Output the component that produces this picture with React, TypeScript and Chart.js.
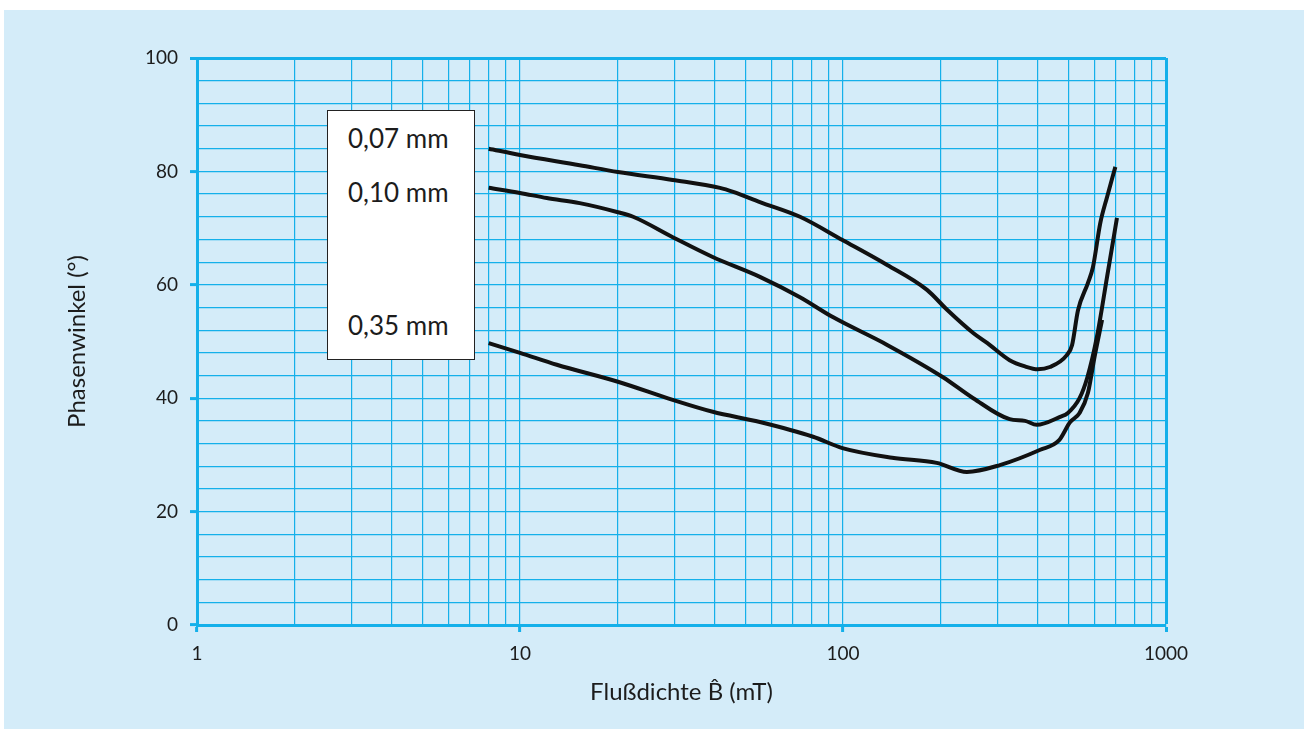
import React, { useEffect, useRef } from "react";
import { Chart, registerables } from "chart.js";

Chart.register(...registerables);

// ---- data ----
const X_MAJOR_TICKS = [1, 10, 100, 1000];
const Y_MAJOR_TICKS = [0, 20, 40, 60, 80, 100];
const SERIES_LABELS = ["0,07 mm", "0,10 mm", "0,35 mm"];

const B_007 = [8, 10, 15.3, 20.1, 29.7, 41.6, 45.7, 55.3, 73.6, 99.6, 137, 182, 210, 253, 280, 328, 366, 401, 437, 493, 512, 534, 573, 594, 626, 657, 697];
const PHI_007 = [84.0, 82.9, 81.1, 79.9, 78.5, 77.1, 76.4, 74.6, 72.0, 67.9, 63.5, 59.1, 55.6, 51.5, 49.7, 46.7, 45.6, 45.1, 45.5, 47.6, 49.4, 55.5, 60.3, 63.1, 70.9, 75.5, 80.8];

const B_010 = [8, 10, 12.1, 15.3, 20.1, 22.4, 29.7, 39.5, 55.3, 73.6, 93, 137, 204, 253, 328, 366, 398, 470, 497, 540, 571, 611, 657, 705];
const PHI_010 = [77.1, 76.2, 75.3, 74.4, 72.8, 72.0, 68.4, 64.9, 61.4, 57.8, 54.3, 49.4, 43.7, 40.0, 36.3, 36.0, 35.3, 36.7, 37.4, 40.0, 43.7, 50.8, 61.4, 71.8];

const B_035 = [8, 10, 13.0, 20.1, 29.7, 39.5, 55.3, 80.8, 99.6, 142, 195, 242, 306, 408, 467, 505, 540, 573, 601, 634];
const PHI_035 = [49.7, 48.0, 45.9, 42.9, 39.7, 37.6, 35.8, 33.2, 31.2, 29.5, 28.6, 27.0, 28.2, 30.9, 32.6, 35.8, 37.4, 40.9, 47.3, 53.8];

const X_TITLE = "Flußdichte B\u0302 (mT)";
const Y_TITLE = "Phasenwinkel (°)";

// ---- style ----
const PANEL_BG = "#d4ecf9";
const GRID = "#14b0ea";
const TEXT = "#1c1c1c";
const FONT = "Lato, 'Open Sans', sans-serif";

const W = 1300;
const H = 719;

const toPts = (xs: number[], ys: number[]) => xs.map((x, i) => ({ x, y: ys[i] }));

export default function App() {
  const ref = useRef<HTMLCanvasElement | null>(null);

  useEffect(() => {
    if (!ref.current) return;
    const mk = (label: string, xs: number[], ys: number[]) => ({
      label,
      data: toPts(xs, ys),
      borderColor: "#111",
      borderWidth: 4,
      pointRadius: 0,
      fill: false,
      cubicInterpolationMode: "monotone" as const,
      borderCapStyle: "butt" as const,
      borderJoinStyle: "round" as const,
    });
    const chart = new Chart(ref.current, {
      type: "line",
      data: {
        datasets: [
          mk(SERIES_LABELS[0], B_007, PHI_007),
          mk(SERIES_LABELS[1], B_010, PHI_010),
          mk(SERIES_LABELS[2], B_035, PHI_035),
        ],
      },
      options: {
        responsive: false,
        animation: false,
        layout: { padding: { left: 0, top: 48, right: 138, bottom: 0 } },
        plugins: {
          legend: { display: false },
          tooltip: { enabled: false },
        },
        scales: {
          x: {
            type: "logarithmic",
            min: 1,
            max: 1000,
            afterBuildTicks: (scale: any) => {
              const vals: number[] = [];
              for (let d = 1; d < 1000; d *= 10) {
                for (let k = 1; k <= 9; k++) vals.push(k * d);
              }
              vals.push(1000);
              scale.ticks = vals.map((v) => ({ value: v, major: X_MAJOR_TICKS.includes(v) }));
            },
            afterFit: (scale: any) => {
              scale.height = 104;
            },
            ticks: {
              autoSkip: false,
              maxRotation: 0,
              padding: 10,
              color: TEXT,
              font: { family: FONT, size: 19 },
              callback: (v: any) => (X_MAJOR_TICKS.includes(Number(v)) ? String(v) : ""),
            },
            grid: {
              color: GRID,
              lineWidth: (ctx: any) => (ctx.tick && ctx.tick.value === 1000 ? 3 : 1.2),
              tickLength: 7,
              tickWidth: 3,
              tickColor: (ctx: any) =>
                ctx.tick && X_MAJOR_TICKS.includes(ctx.tick.value) ? GRID : "rgba(0,0,0,0)",
            },
            border: { display: true, color: GRID, width: 3 },
            title: {
              display: true,
              text: X_TITLE,
              color: TEXT,
              font: { family: FONT, size: 24 },
              padding: { top: 0, bottom: 22 },
            },
          },
          y: {
            type: "linear",
            min: 0,
            max: 100,
            afterBuildTicks: (scale: any) => {
              const vals: number[] = [];
              for (let v = 0; v <= 100; v += 4) vals.push(v);
              scale.ticks = vals.map((v) => ({ value: v, major: Y_MAJOR_TICKS.includes(v) }));
            },
            afterFit: (scale: any) => {
              scale.width = 193;
            },
            ticks: {
              autoSkip: false,
              padding: 12,
              color: TEXT,
              font: { family: FONT, size: 19 },
              callback: (v: any) => (Y_MAJOR_TICKS.includes(Number(v)) ? String(v) : ""),
            },
            grid: {
              color: GRID,
              lineWidth: (ctx: any) => (ctx.tick && ctx.tick.value === 100 ? 3 : 1.2),
              tickLength: 7,
              tickWidth: 3,
              tickColor: (ctx: any) =>
                ctx.tick && Y_MAJOR_TICKS.includes(ctx.tick.value) ? GRID : "rgba(0,0,0,0)",
            },
            border: { display: true, color: GRID, width: 3 },
            title: {
              display: true,
              text: Y_TITLE,
              color: TEXT,
              font: { family: FONT, size: 24 },
              padding: { top: 59, bottom: 0 },
            },
          },
        },
      },
    } as any);
    return () => chart.destroy();
  }, []);

  const labelStyle: React.CSSProperties = {
    position: "absolute",
    left: 20,
    fontFamily: FONT,
    fontSize: 26,
    color: TEXT,
    lineHeight: "26px",
    whiteSpace: "nowrap",
  };

  return (
    <div
      style={{
        position: "fixed",
        left: 4,
        top: 10,
        width: W,
        height: H,
        background: PANEL_BG,
      }}
    >
      <canvas ref={ref} width={W} height={H} style={{ position: "absolute", left: 0, top: 0, width: W, height: H }} />
      <div
        style={{
          position: "absolute",
          left: 323,
          top: 100,
          width: 146,
          height: 248,
          background: "#fff",
          border: "1px solid #222",
        }}
      >
        <div style={{ ...labelStyle, top: 14 }}>{SERIES_LABELS[0]}</div>
        <div style={{ ...labelStyle, top: 68 }}>{SERIES_LABELS[1]}</div>
        <div style={{ ...labelStyle, top: 201 }}>{SERIES_LABELS[2]}</div>
      </div>
    </div>
  );
}
